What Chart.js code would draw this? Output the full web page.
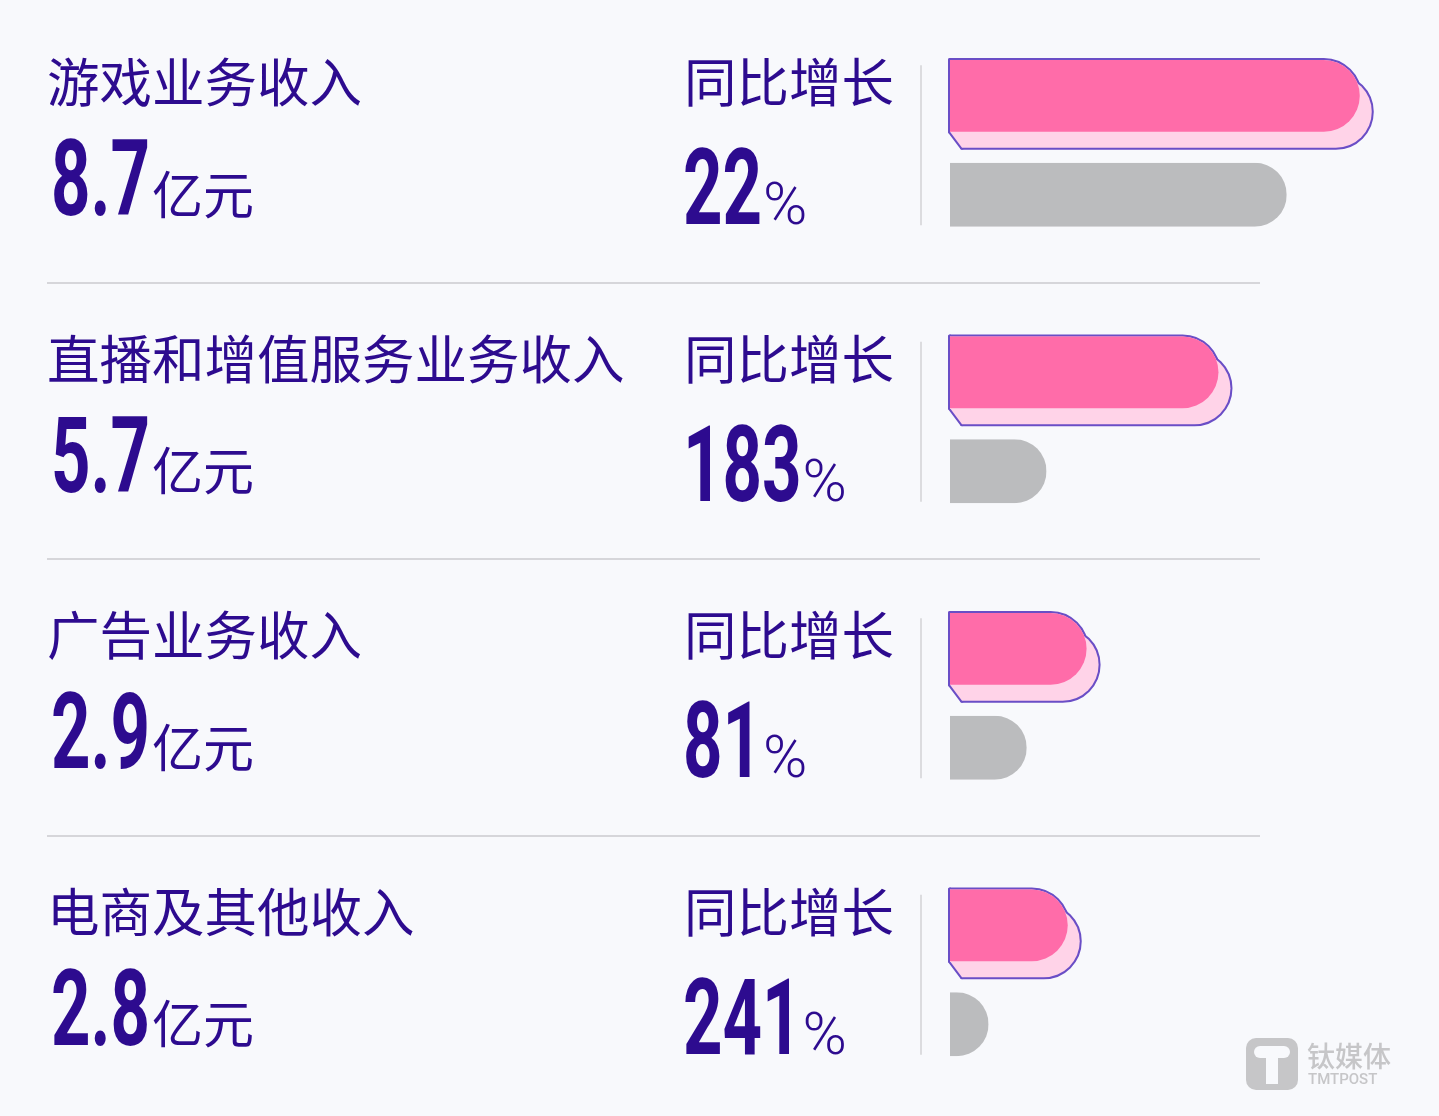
<!DOCTYPE html>
<html>
<head>
<meta charset="utf-8">
<script src="https://cdn.jsdelivr.net/npm/chart.js@4/dist/chart.umd.min.js"></script>
<style>
  html, body { margin: 0; padding: 0; background: #f8f9fc; overflow: hidden; }
  #wrap { width: 1439px; height: 1116px; position: relative; }
</style>
</head>
<body>
<div id="wrap"><canvas id="revChart"></canvas></div>
<script>
// ===== DATOS =====
const rowTitles = ['游戏业务收入', '直播和增值服务业务收入', '广告业务收入', '电商及其他收入'];
const revenueText = ['8.7', '5.7', '2.9', '2.8'];
const growthText = ['22', '183', '81', '241'];
// longitudes de barra (亿元)
const thisYear = [8.7, 5.7, 2.9, 2.5];
const lastYear = [7.15, 2.05, 1.63, 0.82];

const INK = '#2d0b8f';
const CJK = '"Noto Sans CJK SC", "Noto Sans", sans-serif';
const NUM = 'bold 106px Roboto, "Liberation Sans", sans-serif';

// barra con extremo redondo (si es corta, queda un segmento de circulo)
function capsule(ctx, left, top, w, h) {
    const r = h / 2;
    const W = Math.max(w, r);
    ctx.save();
    ctx.beginPath();
    ctx.rect(left, top, w, h);
    ctx.clip();
    ctx.beginPath();
    ctx.roundRect(left + w - W, top, W, h, [0, r, r, 0]);
    ctx.fill();
    ctx.restore();
}

// sombra + contorno de las barras rosas, barras grises
const barPlugin = {
    id: 'barShapes',
    beforeDatasetsDraw(chart) {
        const ctx = chart.ctx;
        const meta = chart.getDatasetMeta(0);
        const dx = 12, dy = 16;
        meta.data.forEach(bar => {
            const p = bar.getProps(['x', 'y', 'base', 'height'], true);
            const left = p.base, top = p.y - p.height / 2, w = p.x - p.base, h = p.height;
            const r = h / 2;
            const shapes = [
                c => c.roundRect(left, top, w, h, [0, r, r, 0]),
                c => c.roundRect(left + dx, top + dy, w, h, [0, r, r, 0]),
                c => { c.moveTo(left, top); c.lineTo(left + dx, top + dy); c.lineTo(left + dx, top + h + dy); c.lineTo(left, top + h); c.closePath(); }
            ];
            ctx.save();
            ctx.strokeStyle = '#6a4ec6';
            ctx.lineWidth = 4;
            ctx.lineJoin = 'round';
            shapes.forEach(s => { ctx.beginPath(); s(ctx); ctx.stroke(); });
            ctx.fillStyle = '#ffd3e8';
            shapes.forEach(s => { ctx.beginPath(); s(ctx); ctx.fill(); });
            ctx.restore();
        });
    },
    beforeDatasetDraw(chart, args) {
        if (args.index !== 1) return;
        const ctx = chart.ctx;
        ctx.save();
        ctx.fillStyle = chart.data.datasets[1].backgroundColor;
        args.meta.data.forEach(bar => {
            const p = bar.getProps(['x', 'y', 'base', 'height'], true);
            capsule(ctx, p.base, p.y - p.height / 2, p.x - p.base, p.height);
        });
        ctx.restore();
        return false;
    }
};

// textos, separadores y marca de agua
const textPlugin = {
    id: 'rowTexts',
    afterDraw(chart) {
        const ctx = chart.ctx;
        const yScale = chart.scales.y;
        const centers = rowTitles.map((_, i) => yScale.getPixelForValue(i));
        ctx.save();

        // separadores
        ctx.strokeStyle = '#d6d6da';
        ctx.lineWidth = 2;
        for (let i = 0; i < centers.length - 1; i++) {
            const y = Math.round((centers[i] + centers[i + 1]) / 2 - 1);
            ctx.beginPath();
            ctx.moveTo(47, y);
            ctx.lineTo(1260, y);
            ctx.stroke();
        }

        const sx = 0.65;
        centers.forEach((c, i) => {
            ctx.fillStyle = INK;
            // titulo
            ctx.font = '400 52.5px ' + CJK;
            ctx.textBaseline = 'middle';
            ctx.textAlign = 'left';
            ctx.fillText(rowTitles[i], 47, c - 63);
            ctx.fillText('同比增长', 684, c - 63);

            // numero grande (condensado)
            ctx.font = NUM;
            ctx.textBaseline = 'alphabetic';
            let w = ctx.measureText(revenueText[i]).width * sx;
            ctx.save();
            ctx.translate(51, c + 70);
            ctx.scale(sx, 1);
            ctx.fillText(revenueText[i], 0, 0);
            ctx.restore();
            ctx.font = '400 51px ' + CJK;
            ctx.textBaseline = 'middle';
            ctx.fillText('亿元', 51 + w + 2, c + 49);

            // crecimiento
            ctx.font = NUM;
            ctx.textBaseline = 'alphabetic';
            w = ctx.measureText(growthText[i]).width * sx;
            ctx.save();
            ctx.translate(683, c + 79);
            ctx.scale(sx, 1);
            ctx.fillText(growthText[i], 0, 0);
            ctx.restore();
            ctx.font = '300 60px Roboto, sans-serif';
            ctx.fillText('%', 683 + w + 1, c + 79);

            // linea vertical
            ctx.strokeStyle = '#dcdcdf';
            ctx.lineWidth = 2;
            ctx.beginPath();
            ctx.moveTo(921, c - 80);
            ctx.lineTo(921, c + 80);
            ctx.stroke();
        });

        // marca de agua
        ctx.fillStyle = '#c6c6c8';
        ctx.beginPath();
        ctx.roundRect(1246, 1038, 52, 52, 10);
        ctx.fill();
        ctx.fillStyle = '#f8f9fc';
        ctx.beginPath();
        ctx.roundRect(1254, 1046, 36, 12, 6);
        ctx.fill();
        ctx.fillRect(1266, 1052, 12, 32);
        ctx.fillStyle = '#c6c6c8';
        ctx.font = '500 28px ' + CJK;
        ctx.textBaseline = 'middle';
        ctx.fillText('钛媒体', 1307, 1056);
        ctx.font = '500 15px Roboto, sans-serif';
        ctx.fillText('TMTPOST', 1308, 1080);
        ctx.restore();
    }
};

new Chart(document.getElementById('revChart'), {
    type: 'bar',
    data: {
        labels: rowTitles,
        datasets: [{
            data: thisYear,
            backgroundColor: '#ff6ca9',
            borderRadius: 100,
            categoryPercentage: 0.715,
            barPercentage: 0.727
        }, {
            data: lastYear,
            backgroundColor: '#bbbcbe',
            borderRadius: 100,
            categoryPercentage: 0.715,
            barPercentage: 0.647
        }]
    },
    options: {
        indexAxis: 'y',
        responsive: true,
        maintainAspectRatio: false,
        animation: false,
        layout: { padding: { left: 950, right: 18, top: 7, bottom: 3 } },
        plugins: {
            legend: { display: false },
            tooltip: { enabled: false }
        },
        scales: {
            x: { display: false, min: 0, max: 10 },
            y: { display: false }
        }
    },
    plugins: [barPlugin, textPlugin]
});
</script>
</body>
</html>
